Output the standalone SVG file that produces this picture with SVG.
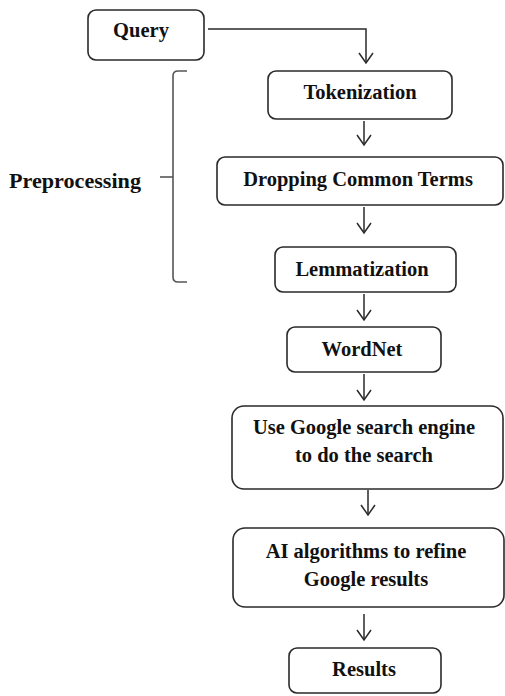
<svg xmlns="http://www.w3.org/2000/svg" width="505" height="696" viewBox="0 0 505 696">
<style>
.box{fill:#fff;stroke:#2a2a2a;stroke-width:1.6}
.t{font-family:'Liberation Serif','DejaVu Serif',serif;font-weight:bold;font-size:20.5px;fill:#111;text-anchor:middle}
.c{fill:none;stroke:#2a2a2a;stroke-width:1.5}
.br{fill:none;stroke:#555;stroke-width:1.6}
</style>
<defs>
<path id="ah" d="M-7,-10 L0,0 L7,-10" fill="none" stroke="#2a2a2a" stroke-width="1.5"/>
</defs>
<g id="connectors">
<path class="c" d="M208,29 H366 V63"/>
<use href="#ah" x="366" y="63"/>
<path class="c" d="M364,121 V145"/>
<use href="#ah" x="364" y="145"/>
<path class="c" d="M364,207 V233"/>
<use href="#ah" x="364" y="233"/>
<path class="c" d="M364,294 V320"/>
<use href="#ah" x="364" y="320"/>
<path class="c" d="M364,374 V400"/>
<use href="#ah" x="364" y="400"/>
<path class="c" d="M368,490 V515"/>
<use href="#ah" x="368" y="515"/>
<path class="c" d="M364,614 V640"/>
<use href="#ah" x="364" y="640"/>
</g>
<g id="query"><rect class="box" x="88" y="10" width="116" height="50" rx="8"/><text class="t" x="141" y="37">Query</text></g>
<g id="tokenization"><rect class="box" x="268" y="71" width="184" height="48" rx="8"/><text class="t" x="360" y="99">Tokenization</text></g>
<g id="dropping"><rect class="box" x="217" y="157" width="286" height="48" rx="8"/><text class="t" x="358" y="186">Dropping Common Terms</text></g>
<g id="lemmatization"><rect class="box" x="275" y="247" width="181" height="45" rx="8"/><text class="t" x="362" y="276">Lemmatization</text></g>
<g id="preprocessing">
<path class="br" d="M187,71 H178 Q173,71 173,76 V277 Q173,282 178,282 H187"/>
<path class="br" d="M160,177 H173"/>
<text class="t" x="75" y="188" textLength="132" lengthAdjust="spacingAndGlyphs">Preprocessing</text>
</g>
<g id="wordnet"><rect class="box" x="287" y="327" width="154" height="45" rx="8"/><text class="t" x="362" y="356">WordNet</text></g>
<g id="google"><rect class="box" x="232" y="406" width="271" height="83" rx="12"/><text class="t" x="364" y="434">Use Google search engine</text><text class="t" x="364" y="462">to do the search</text></g>
<g id="ai"><rect class="box" x="233" y="528" width="271" height="79" rx="12"/><text class="t" x="366" y="558">AI algorithms to refine</text><text class="t" x="366" y="586">Google results</text></g>
<g id="results"><rect class="box" x="289" y="648" width="152" height="45" rx="8"/><text class="t" x="364" y="676">Results</text></g>
</svg>
